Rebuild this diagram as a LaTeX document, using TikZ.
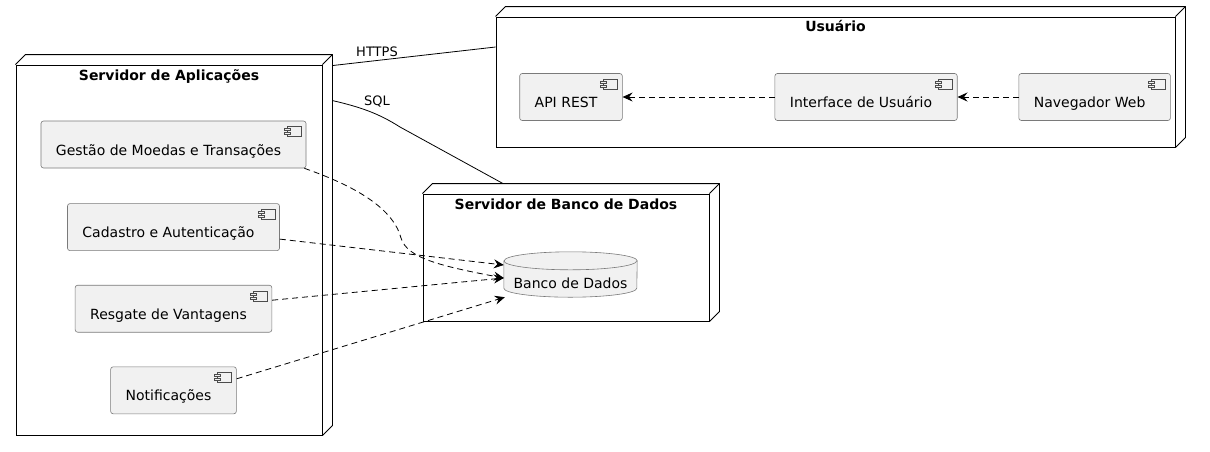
\documentclass[tikz,border=0pt]{standalone}
\usepackage{fontspec}
\setmainfont{DejaVu Sans}
\usetikzlibrary{arrows.meta,positioning,calc}
\definecolor{fundo}{HTML}{F1F1F1}
\definecolor{borda}{HTML}{7A7A7A}
\tikzset{
  servidor/.style={draw,line width=0.9pt,fill=white,inner sep=0pt},
  aresta/.style={line width=0.9pt,line join=round},
  titulo/.style={inner sep=0pt,text height=11pt,text depth=3pt,font=\fontsize{14}{16}\selectfont\bfseries},
  comp/.style={draw=borda,fill=fundo,line width=0.6pt,rounded corners=2.5pt,
    inner xsep=15pt,inner ysep=0pt,minimum height=47pt,text height=23pt,text depth=2pt,
    execute at end node={\hspace*{10pt}}},
  icone/.style={draw=black!70,fill=fundo,line width=0.5pt},
  banco/.style={inner sep=0pt,minimum width=133pt,minimum height=45pt,text height=29pt,text depth=2pt},
  cil/.style={draw=borda,fill=fundo,line width=0.6pt},
  ligacao/.style={line width=0.8pt},
  dep/.style={line width=0.8pt,dash pattern=on 6pt off 4pt,-{Stealth[length=10pt,width=9pt,inset=3.5pt]}},
  rotulo/.style={inner sep=0pt,font=\fontsize{13}{15}\selectfont},
}
\begin{document}
\begin{tikzpicture}[x=1pt,y=-1pt,font=\fontsize{14}{16}\selectfont]
  \useasboundingbox (0,0) rectangle (1210,451);
  % caixas dos nos
  \node[servidor,minimum width=306pt,minimum height=370pt] (apl) at (169,250) {};
  \node[servidor,minimum width=679pt,minimum height=130pt] (usu) at (835.5,82) {};
  \node[servidor,minimum width=286pt,minimum height=127pt] (bd) at (566,257.5) {};
  \foreach \n in {apl,usu,bd}{
    \draw[aresta] (\n.north west) -- ++(10,-10) -| ([shift={(10pt,10pt)}]\n.south east) -- (\n.south east);
    \draw[aresta] (\n.north east) -- ++(10,-10);
  }
  \node[titulo,below=4.5pt of apl.north] (apl-t) {Servidor de Aplicações};
  \node[titulo,below=4pt of usu.north] (usu-t) {Usuário};
  \node[titulo,below=4.5pt of bd.north] (bd-t) {Servidor de Banco de Dados};

  % componentes
  \node[comp] (gestao) at (173.5,144.5) {Gestão de Moedas e Transações};
  \node[comp,below=35pt of gestao] (cadastro) {Cadastro e Autenticação};
  \node[comp,below=34pt of cadastro] (resgate) {Resgate de Vantagens};
  \node[comp,below=34pt of resgate] (notif) {Notificações};
  \node[comp] (api) at (571,97) {API REST};
  \node[comp,right=152pt of api] (interface) {Interface de Usuário};
  \node[comp,right=61pt of interface] (navegador) {Navegador Web};
  \foreach \c in {gestao,cadastro,resgate,notif,api,interface,navegador}{
    \draw[icone] ([shift={(-19pt,-6pt)}]\c.north east) rectangle ++(14,10);
    \draw[icone] ([shift={(-22pt,-8pt)}]\c.north east) rectangle ++(6,2);
    \draw[icone] ([shift={(-22pt,-12pt)}]\c.north east) rectangle ++(6,2);
  }

  % banco de dados
  \node[banco] (bdados) at (570.5,274.5) {};
  \draw[cil] ([yshift=-9pt]bdados.north west) -- ([yshift=9pt]bdados.south west)
    arc[start angle=180,end angle=360,x radius=66.5pt,y radius=9pt]
    -- ([yshift=-9pt]bdados.north east)
    arc[start angle=0,end angle=180,x radius=66.5pt,y radius=9pt] -- cycle;
  \draw[cil,fill=none] ([yshift=-9pt]bdados.north west) arc[start angle=180,end angle=360,x radius=66.5pt,y radius=9pt];
  \node[banco] (bdados-t) at (bdados) {Banco de Dados};

  % ligacoes
  \draw[ligacao] ([shift={(10pt,-1pt)}]apl.north east) -- ([yshift=35pt]usu.west);
  \node[rotulo] (https) at (377,52) {HTTPS};
  \draw[ligacao] ([shift={(10pt,-36pt)}]apl.north east) .. controls (360,107) and (378,113) .. (400,127)
    -- ([shift={(-63pt,10pt)}]bd.north);
  \node[rotulo] (sql) at (377,102) {SQL};

  \draw[dep] ([xshift=-2pt]gestao.south east) .. controls (355,186) and (393,208) .. (401,238)
    .. controls (407,258) and (440,266) .. ([yshift=-3.5pt]bdados.west);
  \draw[dep] ([yshift=-12pt]cadastro.east) -- ([yshift=9.5pt]bdados.west);
  \draw[dep] ([yshift=8.5pt]resgate.east) -- ([yshift=-3.5pt]bdados.west);
  \draw[dep] ([yshift=11.5pt]notif.east) -- ([xshift=1pt]bdados.south west);
  \draw[dep] (interface.west) -- (api.east);
  \draw[dep] (navegador.west) -- (interface.east);
\end{tikzpicture}
\end{document}
